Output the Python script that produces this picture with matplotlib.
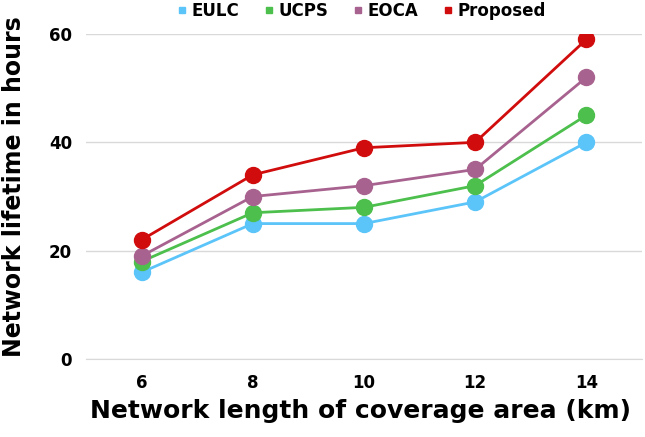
import matplotlib
matplotlib.use("Agg")
import matplotlib.pyplot as plt

categories = ["6", "8", "10", "12", "14"]
eulc = [16, 25, 25, 29, 40]
ucps = [18, 27, 28, 32, 45]
eoca = [19, 30, 32, 35, 52]
proposed = [22, 34, 39, 40, 59]
series_names = ["EULC", "UCPS", "EOCA", "Proposed"]
colors = ["#5BC4F9", "#4CBF4C", "#A8628F", "#D10C0C"]
y_ticks = [0, 20, 40, 60]

plt.rcParams['font.family'] = ['DejaVu Sans']
fig = plt.figure(figsize=(6.45, 4.37), dpi=100)
W, H = 645, 437
ax = fig.add_axes([86 / W, (H - 359) / H, (642 - 86) / W, (359 - 34) / H])

x = list(range(len(categories)))
for name, vals, c in zip(series_names, [eulc, ucps, eoca, proposed], colors):
    ax.plot(x, vals, color=c, lw=2, marker='o', markersize=11.5, label=name, zorder=3)

ax.set_xlim(-0.5, len(categories) - 0.5)
ax.set_ylim(0, 60)
ax.set_yticks(y_ticks)
ax.set_xticks(x)
ax.set_xticklabels(categories)
ax.grid(axis='y', color='#D9D9D9', lw=1)
ax.set_axisbelow(True)
for s in ['top', 'right', 'left']:
    ax.spines[s].set_visible(False)
ax.spines['bottom'].set_color('#D9D9D9')
ax.tick_params(axis='both', length=0, labelsize=12)
ax.tick_params(axis='x', pad=11)
ax.tick_params(axis='y', pad=10)
for lab in ax.get_xticklabels() + ax.get_yticklabels():
    lab.set_fontweight('bold')
ax.set_xlabel("Network length of coverage area (km)", fontsize=18, fontweight='bold', va='center')
ax.set_ylabel("Network lifetime in hours", fontsize=17, fontweight='bold', va='center')
ax.xaxis.set_label_coords(360 / W, (H - 411) / H, transform=fig.transFigure)
ax.yaxis.set_label_coords(14 / W, (H - 187) / H, transform=fig.transFigure)

handles = [plt.Line2D([], [], color=c, marker='s', ls='none', markersize=4) for c in colors]
fig.legend(handles, series_names, loc='center', bbox_to_anchor=(360 / W, (H - 11) / H), ncol=4, frameon=False,
           prop={'weight': 'bold', 'size': 12}, handletextpad=0.05, columnspacing=1.3, handlelength=1.0)

fig.savefig("out.png", dpi=100)
